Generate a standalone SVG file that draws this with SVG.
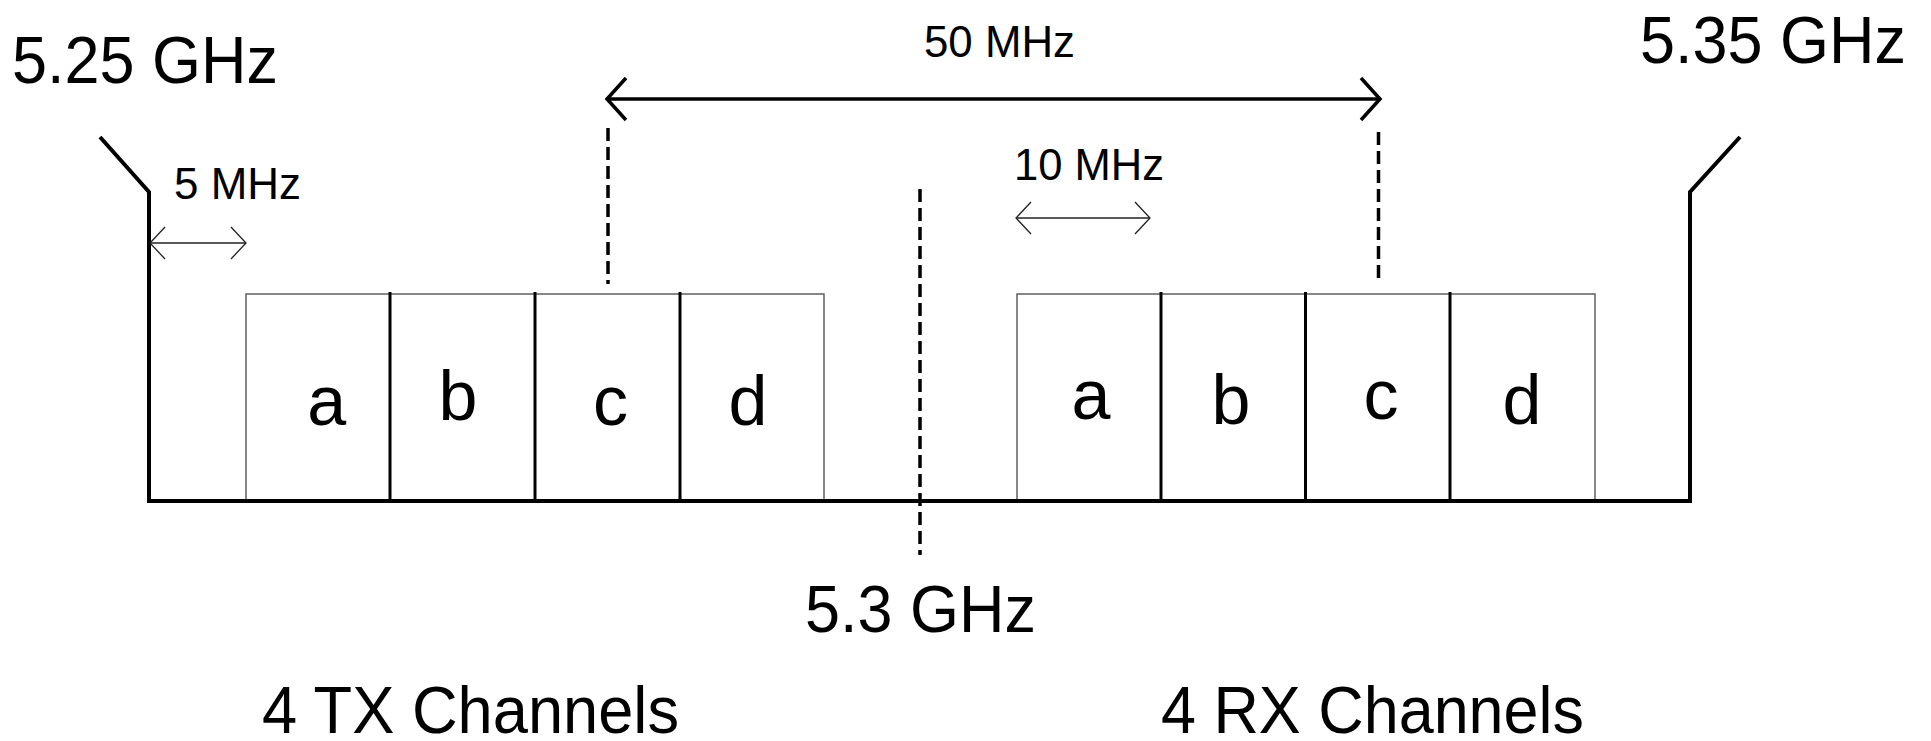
<svg xmlns="http://www.w3.org/2000/svg" width="1931" height="741" viewBox="0 0 1931 741">
<style>
text{font-family:"Liberation Sans",Arial,sans-serif;fill:#000}
.big{font-size:67px}
.mid{font-size:45px}
.let{font-size:70px;text-anchor:middle}
.wall{fill:none;stroke:#000;stroke-width:4;stroke-linejoin:miter}
.box{fill:#fff;stroke:#555;stroke-width:1.4}
.div{stroke:#000;stroke-width:3}
.dash{stroke:#000;stroke-width:3.5;stroke-dasharray:13 6;fill:none}
.thick{stroke:#000;stroke-width:3.5;fill:none}
.thin{stroke:#222;stroke-width:1.3;fill:none}
</style>
<defs>
<marker id="hb" markerUnits="userSpaceOnUse" viewBox="-24 -26 28 52" markerWidth="28" markerHeight="52" refX="0" refY="0" orient="auto-start-reverse">
<path d="M-19,-21 L0,0 L-19,21" fill="none" stroke="#000" stroke-width="3.5"/>
</marker>
<marker id="hs" markerUnits="userSpaceOnUse" viewBox="-20 -20 24 40" markerWidth="24" markerHeight="40" refX="0" refY="0" orient="auto-start-reverse">
<path d="M-15,-16 L0,0 L-15,16" fill="none" stroke="#222" stroke-width="1.3"/>
</marker>
</defs>
<rect width="1931" height="741" fill="#fff"/>
<g id="band">
<polyline class="wall" points="100,137 149,192 149,501 1690,501 1690,192 1740,137"/>
</g>
<g id="tx-channels">
<rect class="box" x="246" y="294" width="578" height="206"/>
<line class="div" x1="390" y1="292" x2="390" y2="502"/>
<line class="div" x1="535" y1="292" x2="535" y2="502"/>
<line class="div" x1="680" y1="292" x2="680" y2="502"/>
<text class="let" x="326.7" y="425" textLength="36.6">a</text>
<text class="let" x="458" y="420" textLength="36.6">b</text>
<text class="let" x="610.5" y="425" textLength="33">c</text>
<text class="let" x="748" y="425" textLength="36.6">d</text>
</g>
<g id="rx-channels">
<rect class="box" x="1017" y="294" width="578" height="206"/>
<line class="div" x1="1161" y1="292" x2="1161" y2="502"/>
<line class="div" x1="1305.5" y1="292" x2="1305.5" y2="502"/>
<line class="div" x1="1450" y1="292" x2="1450" y2="502"/>
<text class="let" x="1091" y="419" textLength="36.6">a</text>
<text class="let" x="1231" y="424" textLength="36.6">b</text>
<text class="let" x="1381" y="419" textLength="33">c</text>
<text class="let" x="1522" y="424" textLength="36.6">d</text>
</g>
<g id="bottom-line">
<line x1="147" y1="501" x2="1692" y2="501" stroke="#000" stroke-width="4"/>
</g>
<g id="connectors">
<line class="dash" x1="920" y1="189" x2="920" y2="555"/>
<line class="dash" x1="608" y1="128" x2="608" y2="284"/>
<line class="dash" x1="1378.5" y1="132" x2="1378.5" y2="284"/>
<line class="thick" x1="607" y1="99" x2="1380" y2="99" marker-start="url(#hb)" marker-end="url(#hb)"/>
<line class="thin" x1="1016" y1="218" x2="1150" y2="218" marker-start="url(#hs)" marker-end="url(#hs)"/>
<line class="thin" x1="150" y1="243" x2="246" y2="243" marker-start="url(#hs)" marker-end="url(#hs)"/>
</g>
<g id="labels">
<text class="big" x="12" y="83" textLength="266" lengthAdjust="spacingAndGlyphs">5.25 GHz</text>
<text class="big" x="1640" y="63" textLength="266" lengthAdjust="spacingAndGlyphs">5.35 GHz</text>
<text class="big" x="805" y="632" textLength="231" lengthAdjust="spacingAndGlyphs">5.3 GHz</text>
<text class="big" x="262" y="733" textLength="417" lengthAdjust="spacingAndGlyphs">4 TX Channels</text>
<text class="big" x="1161" y="733" textLength="423" lengthAdjust="spacingAndGlyphs">4 RX Channels</text>
<text class="mid" x="174" y="199" textLength="127" lengthAdjust="spacingAndGlyphs">5 MHz</text>
<text class="mid" x="924" y="57" textLength="151" lengthAdjust="spacingAndGlyphs">50 MHz</text>
<text class="mid" x="1014" y="180" textLength="150" lengthAdjust="spacingAndGlyphs">10 MHz</text>
</g>
</svg>
